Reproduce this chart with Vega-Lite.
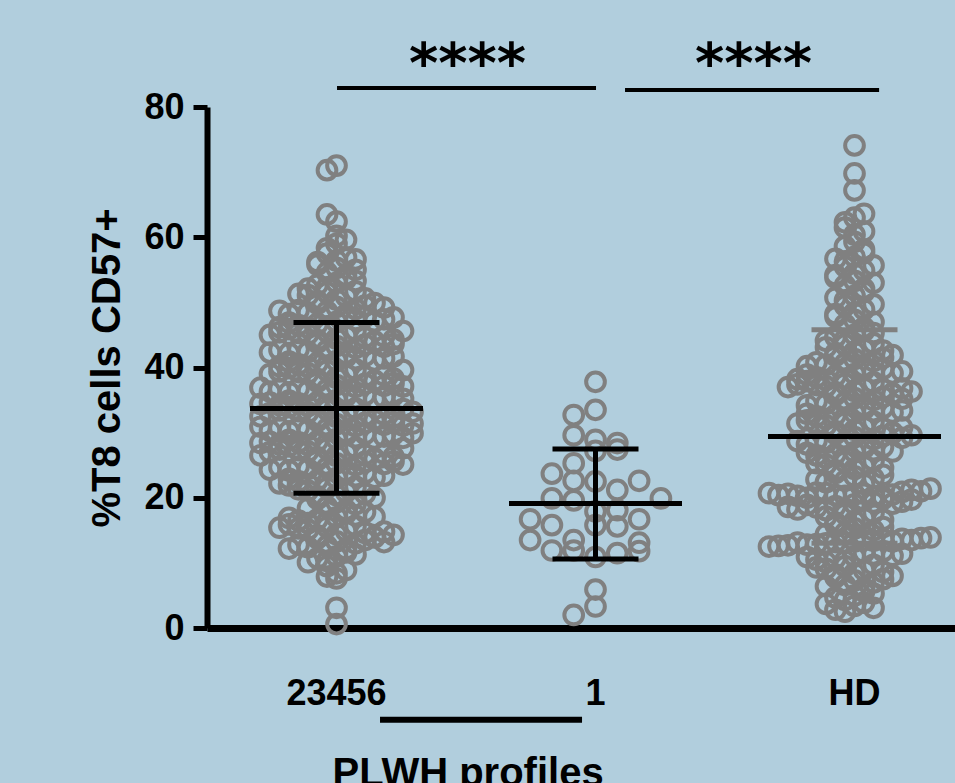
{
  "$schema": "https://vega.github.io/schema/vega-lite/v6.json",
  "width": 748,
  "height": 521,
  "autosize": {"type": "none"},
  "padding": {"left": 207, "top": 107, "right": 0, "bottom": 155},
  "background": "#b1cedd",
  "config": {"view": {"stroke": null}, "font": "Liberation Sans", "axis": {"grid": false}},
  "datasets": {
    "pts": [
      {"g":"23456","v":71.0},{"g":"23456","v":70.3},
      {"g":"23456","v":62.4},{"g":"23456","v":63.5},
      {"g":"23456","v":60.2},
      {"g":"23456","v":59.0},{"g":"23456","v":58.3},{"g":"23456","v":59.6},
      {"g":"23456","v":56.4},{"g":"23456","v":57.5},{"g":"23456","v":56.9},{"g":"23456","v":56.2},{"g":"23456","v":56.6},
      {"g":"23456","v":55.3},{"g":"23456","v":54.6},{"g":"23456","v":54.1},{"g":"23456","v":55.8},{"g":"23456","v":55.0},
      {"g":"23456","v":53.0},{"g":"23456","v":52.3},{"g":"23456","v":53.6},{"g":"23456","v":52.7},{"g":"23456","v":53.3},{"g":"23456","v":52.1},
      {"g":"23456","v":50.4},{"g":"23456","v":51.5},{"g":"23456","v":50.9},{"g":"23456","v":50.2},{"g":"23456","v":51.7},{"g":"23456","v":51.1},{"g":"23456","v":50.6},{"g":"23456","v":51.3},
      {"g":"23456","v":49.3},{"g":"23456","v":48.6},{"g":"23456","v":48.1},{"g":"23456","v":49.8},{"g":"23456","v":49.0},{"g":"23456","v":48.4},{"g":"23456","v":49.5},{"g":"23456","v":48.8},{"g":"23456","v":49.9},{"g":"23456","v":48.2},{"g":"23456","v":49.2},{"g":"23456","v":48.7},
      {"g":"23456","v":47.0},{"g":"23456","v":46.3},{"g":"23456","v":47.6},{"g":"23456","v":46.7},{"g":"23456","v":47.3},{"g":"23456","v":46.1},{"g":"23456","v":47.8},{"g":"23456","v":46.5},{"g":"23456","v":47.1},{"g":"23456","v":46.9},{"g":"23456","v":47.4},{"g":"23456","v":46.2},{"g":"23456","v":47.7},
      {"g":"23456","v":44.4},{"g":"23456","v":45.5},{"g":"23456","v":44.9},{"g":"23456","v":44.2},{"g":"23456","v":45.7},{"g":"23456","v":45.1},{"g":"23456","v":44.6},{"g":"23456","v":45.3},{"g":"23456","v":44.0},{"g":"23456","v":45.9},{"g":"23456","v":44.8},{"g":"23456","v":45.4},{"g":"23456","v":44.3},{"g":"23456","v":45.0},{"g":"23456","v":45.6},
      {"g":"23456","v":43.3},{"g":"23456","v":42.6},{"g":"23456","v":42.1},{"g":"23456","v":43.8},{"g":"23456","v":43.0},{"g":"23456","v":42.4},{"g":"23456","v":43.5},{"g":"23456","v":42.8},{"g":"23456","v":43.9},{"g":"23456","v":42.2},{"g":"23456","v":43.2},{"g":"23456","v":42.7},{"g":"23456","v":43.6},{"g":"23456","v":42.3},
      {"g":"23456","v":41.0},{"g":"23456","v":40.3},{"g":"23456","v":41.6},{"g":"23456","v":40.7},{"g":"23456","v":41.3},{"g":"23456","v":40.1},{"g":"23456","v":41.8},{"g":"23456","v":40.5},{"g":"23456","v":41.1},{"g":"23456","v":40.9},{"g":"23456","v":41.4},{"g":"23456","v":40.2},{"g":"23456","v":41.7},
      {"g":"23456","v":38.4},{"g":"23456","v":39.5},{"g":"23456","v":38.9},{"g":"23456","v":38.2},{"g":"23456","v":39.7},{"g":"23456","v":39.1},{"g":"23456","v":38.6},{"g":"23456","v":39.3},{"g":"23456","v":38.0},{"g":"23456","v":39.9},{"g":"23456","v":38.8},{"g":"23456","v":39.4},{"g":"23456","v":38.3},{"g":"23456","v":39.0},{"g":"23456","v":39.6},
      {"g":"23456","v":37.3},{"g":"23456","v":36.6},{"g":"23456","v":36.1},{"g":"23456","v":37.8},{"g":"23456","v":37.0},{"g":"23456","v":36.4},{"g":"23456","v":37.5},{"g":"23456","v":36.8},{"g":"23456","v":37.9},{"g":"23456","v":36.2},{"g":"23456","v":37.2},{"g":"23456","v":36.7},{"g":"23456","v":37.6},{"g":"23456","v":36.3},{"g":"23456","v":37.1},{"g":"23456","v":36.9},
      {"g":"23456","v":35.0},{"g":"23456","v":34.3},{"g":"23456","v":35.6},{"g":"23456","v":34.7},{"g":"23456","v":35.3},{"g":"23456","v":34.1},{"g":"23456","v":35.8},{"g":"23456","v":34.5},{"g":"23456","v":35.1},{"g":"23456","v":34.9},{"g":"23456","v":35.4},{"g":"23456","v":34.2},{"g":"23456","v":35.7},{"g":"23456","v":34.6},{"g":"23456","v":35.2},{"g":"23456","v":34.4},
      {"g":"23456","v":32.4},{"g":"23456","v":33.5},{"g":"23456","v":32.9},{"g":"23456","v":32.2},{"g":"23456","v":33.7},{"g":"23456","v":33.1},{"g":"23456","v":32.6},{"g":"23456","v":33.3},{"g":"23456","v":32.0},{"g":"23456","v":33.9},{"g":"23456","v":32.8},{"g":"23456","v":33.4},{"g":"23456","v":32.3},{"g":"23456","v":33.0},{"g":"23456","v":33.6},{"g":"23456","v":32.5},{"g":"23456","v":33.2},
      {"g":"23456","v":31.3},{"g":"23456","v":30.6},{"g":"23456","v":30.1},{"g":"23456","v":31.8},{"g":"23456","v":31.0},{"g":"23456","v":30.4},{"g":"23456","v":31.5},{"g":"23456","v":30.8},{"g":"23456","v":31.9},{"g":"23456","v":30.2},{"g":"23456","v":31.2},{"g":"23456","v":30.7},{"g":"23456","v":31.6},{"g":"23456","v":30.3},{"g":"23456","v":31.1},{"g":"23456","v":30.9},{"g":"23456","v":31.4},
      {"g":"23456","v":29.0},{"g":"23456","v":28.3},{"g":"23456","v":29.6},{"g":"23456","v":28.7},{"g":"23456","v":29.3},{"g":"23456","v":28.1},{"g":"23456","v":29.8},{"g":"23456","v":28.5},{"g":"23456","v":29.1},{"g":"23456","v":28.9},{"g":"23456","v":29.4},{"g":"23456","v":28.2},{"g":"23456","v":29.7},{"g":"23456","v":28.6},{"g":"23456","v":29.2},{"g":"23456","v":28.4},{"g":"23456","v":29.9},
      {"g":"23456","v":26.4},{"g":"23456","v":27.5},{"g":"23456","v":26.9},{"g":"23456","v":26.2},{"g":"23456","v":27.7},{"g":"23456","v":27.1},{"g":"23456","v":26.6},{"g":"23456","v":27.3},{"g":"23456","v":26.0},{"g":"23456","v":27.9},{"g":"23456","v":26.8},{"g":"23456","v":27.4},{"g":"23456","v":26.3},{"g":"23456","v":27.0},{"g":"23456","v":27.6},{"g":"23456","v":26.5},
      {"g":"23456","v":25.3},{"g":"23456","v":24.6},{"g":"23456","v":24.1},{"g":"23456","v":25.8},{"g":"23456","v":25.0},{"g":"23456","v":24.4},{"g":"23456","v":25.5},{"g":"23456","v":24.8},{"g":"23456","v":25.9},{"g":"23456","v":24.2},{"g":"23456","v":25.2},{"g":"23456","v":24.7},{"g":"23456","v":25.6},{"g":"23456","v":24.3},{"g":"23456","v":25.1},
      {"g":"23456","v":23.0},{"g":"23456","v":22.3},{"g":"23456","v":23.6},{"g":"23456","v":22.7},{"g":"23456","v":23.3},{"g":"23456","v":22.1},{"g":"23456","v":23.8},{"g":"23456","v":22.5},{"g":"23456","v":23.1},{"g":"23456","v":22.9},{"g":"23456","v":23.4},{"g":"23456","v":22.2},
      {"g":"23456","v":20.4},{"g":"23456","v":21.5},{"g":"23456","v":20.9},{"g":"23456","v":20.2},{"g":"23456","v":21.7},{"g":"23456","v":21.1},{"g":"23456","v":20.6},{"g":"23456","v":21.3},{"g":"23456","v":20.0},{"g":"23456","v":21.9},
      {"g":"23456","v":19.3},{"g":"23456","v":18.6},{"g":"23456","v":18.1},{"g":"23456","v":19.8},{"g":"23456","v":19.0},{"g":"23456","v":18.4},
      {"g":"23456","v":17.0},{"g":"23456","v":16.3},{"g":"23456","v":17.6},{"g":"23456","v":16.7},{"g":"23456","v":17.3},{"g":"23456","v":16.1},{"g":"23456","v":17.8},{"g":"23456","v":16.5},{"g":"23456","v":17.1},{"g":"23456","v":16.9},
      {"g":"23456","v":14.4},{"g":"23456","v":15.5},{"g":"23456","v":14.9},{"g":"23456","v":14.2},{"g":"23456","v":15.7},{"g":"23456","v":15.1},{"g":"23456","v":14.6},{"g":"23456","v":15.3},{"g":"23456","v":14.0},{"g":"23456","v":15.9},{"g":"23456","v":14.8},{"g":"23456","v":15.4},{"g":"23456","v":14.3},
      {"g":"23456","v":13.3},{"g":"23456","v":12.6},{"g":"23456","v":12.1},{"g":"23456","v":13.8},{"g":"23456","v":13.0},{"g":"23456","v":12.4},{"g":"23456","v":13.5},{"g":"23456","v":12.8},{"g":"23456","v":13.9},{"g":"23456","v":12.2},{"g":"23456","v":13.2},
      {"g":"23456","v":11.0},{"g":"23456","v":10.3},{"g":"23456","v":11.6},{"g":"23456","v":10.7},{"g":"23456","v":11.3},{"g":"23456","v":10.1},
      {"g":"23456","v":8.4},{"g":"23456","v":9.5},{"g":"23456","v":8.9},
      {"g":"23456","v":7.6},{"g":"23456","v":7.9},
      {"g":"23456","v":3.1},
      {"g":"23456","v":0.6},
      {"g":"1","v":37.8},{"g":"1","v":33.5},{"g":"1","v":32.7},
      {"g":"1","v":28.9},{"g":"1","v":29.6},{"g":"1","v":28.4},
      {"g":"1","v":27.2},{"g":"1","v":25.3},{"g":"1","v":27.4},
      {"g":"1","v":22.5},{"g":"1","v":22.6},{"g":"1","v":21.2},{"g":"1","v":23.7},{"g":"1","v":22.6},
      {"g":"1","v":17.9},{"g":"1","v":19.6},{"g":"1","v":18.1},{"g":"1","v":19.9},{"g":"1","v":16.7},{"g":"1","v":16.7},{"g":"1","v":19.9},
      {"g":"1","v":15.8},{"g":"1","v":13.5},{"g":"1","v":15.6},{"g":"1","v":15.8},{"g":"1","v":13.1},{"g":"1","v":13.5},
      {"g":"1","v":10.9},{"g":"1","v":11.9},{"g":"1","v":11.5},{"g":"1","v":11.9},{"g":"1","v":11.8},
      {"g":"1","v":5.9},{"g":"1","v":3.3},{"g":"1","v":2.0},
      {"g":"HD","v":74.1},{"g":"HD","v":69.8},{"g":"HD","v":67.2},
      {"g":"HD","v":63.0},{"g":"HD","v":62.3},{"g":"HD","v":63.6},
      {"g":"HD","v":60.4},{"g":"HD","v":61.5},{"g":"HD","v":60.9},
      {"g":"HD","v":59.3},{"g":"HD","v":58.6},{"g":"HD","v":58.1},
      {"g":"HD","v":57.0},{"g":"HD","v":56.3},{"g":"HD","v":57.6},{"g":"HD","v":56.7},
      {"g":"HD","v":54.4},{"g":"HD","v":55.5},{"g":"HD","v":54.9},{"g":"HD","v":54.2},{"g":"HD","v":55.7},
      {"g":"HD","v":53.3},{"g":"HD","v":52.6},{"g":"HD","v":52.1},{"g":"HD","v":53.8},{"g":"HD","v":53.0},
      {"g":"HD","v":51.0},{"g":"HD","v":50.3},{"g":"HD","v":51.6},{"g":"HD","v":50.7},
      {"g":"HD","v":48.4},{"g":"HD","v":49.5},{"g":"HD","v":48.9},{"g":"HD","v":48.2},{"g":"HD","v":49.7},
      {"g":"HD","v":47.3},{"g":"HD","v":46.6},{"g":"HD","v":46.1},{"g":"HD","v":47.8},{"g":"HD","v":47.0},
      {"g":"HD","v":45.0},{"g":"HD","v":44.3},{"g":"HD","v":45.6},{"g":"HD","v":44.7},{"g":"HD","v":45.3},{"g":"HD","v":44.1},
      {"g":"HD","v":42.4},{"g":"HD","v":43.5},{"g":"HD","v":42.9},{"g":"HD","v":42.2},{"g":"HD","v":43.7},{"g":"HD","v":43.1},{"g":"HD","v":42.6},
      {"g":"HD","v":41.3},{"g":"HD","v":40.6},{"g":"HD","v":40.1},{"g":"HD","v":41.8},{"g":"HD","v":41.0},{"g":"HD","v":40.4},{"g":"HD","v":41.5},{"g":"HD","v":40.8},{"g":"HD","v":41.9},{"g":"HD","v":40.2},
      {"g":"HD","v":39.0},{"g":"HD","v":38.3},{"g":"HD","v":39.6},{"g":"HD","v":38.7},{"g":"HD","v":39.3},{"g":"HD","v":38.1},{"g":"HD","v":39.8},{"g":"HD","v":38.5},{"g":"HD","v":39.1},{"g":"HD","v":38.9},{"g":"HD","v":39.4},{"g":"HD","v":38.2},
      {"g":"HD","v":36.4},{"g":"HD","v":37.5},{"g":"HD","v":36.9},{"g":"HD","v":36.2},{"g":"HD","v":37.7},{"g":"HD","v":37.1},{"g":"HD","v":36.6},{"g":"HD","v":37.3},{"g":"HD","v":36.0},{"g":"HD","v":37.9},{"g":"HD","v":36.8},{"g":"HD","v":37.4},{"g":"HD","v":36.3},{"g":"HD","v":37.0},
      {"g":"HD","v":35.3},{"g":"HD","v":34.6},{"g":"HD","v":34.1},{"g":"HD","v":35.8},{"g":"HD","v":35.0},{"g":"HD","v":34.4},{"g":"HD","v":35.5},{"g":"HD","v":34.8},{"g":"HD","v":35.9},{"g":"HD","v":34.2},{"g":"HD","v":35.2},
      {"g":"HD","v":33.0},{"g":"HD","v":32.3},{"g":"HD","v":33.6},{"g":"HD","v":32.7},{"g":"HD","v":33.3},{"g":"HD","v":32.1},{"g":"HD","v":33.8},{"g":"HD","v":32.5},{"g":"HD","v":33.1},{"g":"HD","v":32.9},{"g":"HD","v":33.4},
      {"g":"HD","v":30.4},{"g":"HD","v":31.5},{"g":"HD","v":30.9},{"g":"HD","v":30.2},{"g":"HD","v":31.7},{"g":"HD","v":31.1},{"g":"HD","v":30.6},{"g":"HD","v":31.3},{"g":"HD","v":30.0},{"g":"HD","v":31.9},{"g":"HD","v":30.8},{"g":"HD","v":31.4},
      {"g":"HD","v":29.3},{"g":"HD","v":28.6},{"g":"HD","v":28.1},{"g":"HD","v":29.8},{"g":"HD","v":29.0},{"g":"HD","v":28.4},{"g":"HD","v":29.5},{"g":"HD","v":28.8},{"g":"HD","v":29.9},{"g":"HD","v":28.2},{"g":"HD","v":29.2},{"g":"HD","v":28.7},{"g":"HD","v":29.6},
      {"g":"HD","v":27.0},{"g":"HD","v":26.3},{"g":"HD","v":27.6},{"g":"HD","v":26.7},{"g":"HD","v":27.3},{"g":"HD","v":26.1},{"g":"HD","v":27.8},{"g":"HD","v":26.5},{"g":"HD","v":27.1},{"g":"HD","v":26.9},
      {"g":"HD","v":24.4},{"g":"HD","v":25.5},{"g":"HD","v":24.9},{"g":"HD","v":24.2},{"g":"HD","v":25.7},{"g":"HD","v":25.1},{"g":"HD","v":24.6},{"g":"HD","v":25.3},
      {"g":"HD","v":23.3},{"g":"HD","v":22.6},{"g":"HD","v":22.1},{"g":"HD","v":23.8},{"g":"HD","v":23.0},{"g":"HD","v":22.4},{"g":"HD","v":23.5},{"g":"HD","v":22.8},
      {"g":"HD","v":20.5},{"g":"HD","v":20.3},{"g":"HD","v":20.6},{"g":"HD","v":20.4},{"g":"HD","v":20.2},{"g":"HD","v":20.7},{"g":"HD","v":20.1},{"g":"HD","v":20.8},{"g":"HD","v":20.5},{"g":"HD","v":20.0},{"g":"HD","v":20.9},{"g":"HD","v":20.3},{"g":"HD","v":21.2},{"g":"HD","v":20.6},{"g":"HD","v":21.0},{"g":"HD","v":20.4},{"g":"HD","v":21.4},{"g":"HD","v":20.7},
      {"g":"HD","v":19.0},{"g":"HD","v":18.3},{"g":"HD","v":19.6},{"g":"HD","v":18.7},{"g":"HD","v":19.3},{"g":"HD","v":18.1},{"g":"HD","v":19.8},{"g":"HD","v":18.5},{"g":"HD","v":19.1},{"g":"HD","v":18.9},{"g":"HD","v":19.4},{"g":"HD","v":18.2},{"g":"HD","v":19.7},{"g":"HD","v":18.6},
      {"g":"HD","v":16.4},{"g":"HD","v":17.5},{"g":"HD","v":16.9},{"g":"HD","v":16.2},{"g":"HD","v":17.7},{"g":"HD","v":17.1},{"g":"HD","v":16.6},
      {"g":"HD","v":15.3},{"g":"HD","v":14.6},{"g":"HD","v":14.1},{"g":"HD","v":15.8},{"g":"HD","v":15.0},{"g":"HD","v":14.4},{"g":"HD","v":15.5},
      {"g":"HD","v":13.3},{"g":"HD","v":13.1},{"g":"HD","v":13.5},{"g":"HD","v":13.2},{"g":"HD","v":13.4},{"g":"HD","v":13.0},{"g":"HD","v":13.6},{"g":"HD","v":12.9},{"g":"HD","v":13.3},{"g":"HD","v":12.8},{"g":"HD","v":13.7},{"g":"HD","v":13.1},{"g":"HD","v":13.5},{"g":"HD","v":12.7},{"g":"HD","v":13.8},{"g":"HD","v":12.6},{"g":"HD","v":13.9},{"g":"HD","v":12.5},
      {"g":"HD","v":11.0},{"g":"HD","v":10.3},{"g":"HD","v":11.6},{"g":"HD","v":10.7},{"g":"HD","v":11.3},{"g":"HD","v":10.1},{"g":"HD","v":11.8},{"g":"HD","v":10.5},{"g":"HD","v":11.1},{"g":"HD","v":10.9},{"g":"HD","v":11.4},
      {"g":"HD","v":8.4},{"g":"HD","v":9.5},{"g":"HD","v":8.9},{"g":"HD","v":8.2},{"g":"HD","v":9.7},{"g":"HD","v":9.1},{"g":"HD","v":8.6},{"g":"HD","v":9.3},{"g":"HD","v":8.0},
      {"g":"HD","v":7.3},{"g":"HD","v":6.6},{"g":"HD","v":6.1},{"g":"HD","v":7.8},{"g":"HD","v":7.0},{"g":"HD","v":6.4},{"g":"HD","v":7.5},
      {"g":"HD","v":5.0},{"g":"HD","v":4.3},{"g":"HD","v":5.6},{"g":"HD","v":4.7},{"g":"HD","v":5.3},
      {"g":"HD","v":3.4},{"g":"HD","v":2.5},{"g":"HD","v":3.9},{"g":"HD","v":2.8},{"g":"HD","v":3.1},{"g":"HD","v":3.7}
    ],
    "summary": [
      {"g":"23456","mean":33.7,"lo":20.7,"hi":46.9},
      {"g":"1","mean":19.1,"lo":10.6,"hi":27.5},
      {"g":"HD","mean":29.4,"lo":13.0,"hi":45.8}
    ],
    "sig": [
      {"x1":0.502,"x2":1.502,"y":82.9},
      {"x1":1.614,"x2":2.595,"y":82.6}
    ],
    "stars": [
      {"x":1.006,"y":83.8,"t":"****"},
      {"x":2.110,"y":83.8,"t":"****"}
    ],
    "base": [
      {"x1":0.668,"x2":1.448,"y":-14.1}
    ],
    "xtitle": [
      {"x":1.008,"y":-24.3,"t":"PLWH profiles"}
    ]
  },
  "layer": [
    {
      "data": {"name": "pts"},
      "transform": [
        {"filter": "datum.g !== '1'"},
        {"bin": {"step": 2, "extent": [0, 80]}, "field": "v", "as": "vb"},
        {"window": [{"op": "row_number", "as": "slot"}], "groupby": ["g", "vb"]}
      ],
      "mark": {"type": "point", "shape": "circle", "filled": false, "color": "#808080", "strokeWidth": 4, "size": 350, "opacity": 1},
      "encoding": {
        "x": {
          "field": "g", "type": "nominal",
          "scale": {"domain": ["23456", "1", "HD"], "range": [0, 777], "paddingInner": 0, "paddingOuter": 0},
          "axis": {"title": null, "domainColor": "black", "domainWidth": 7, "ticks": false, "tickSize": 0, "labelFontSize": 36, "labelFontWeight": "bold", "labelColor": "black", "labelPadding": 48, "labelAngle": 0}
        },
        "xOffset": {
          "field": "slot", "type": "ordinal",
          "scale": {"type": "point", "domain": [20, 18, 16, 14, 12, 10, 8, 6, 4, 2, 1, 3, 5, 7, 9, 11, 13, 15, 17, 19], "range": [34.5, 215], "padding": 0}
        },
        "y": {
          "field": "v", "type": "quantitative",
          "scale": {"domain": [0, 80], "nice": false},
          "axis": {"title": "%T8 cells CD57+", "orient": "left", "values": [0, 20, 40, 60, 80], "domainColor": "black", "domainWidth": 6, "tickColor": "black", "tickWidth": 5, "tickSize": 14, "labelFontSize": 36, "labelFontWeight": "bold", "labelColor": "black", "labelPadding": 9, "titleFontSize": 40, "titleFontWeight": "bold", "titleColor": "black", "titlePadding": 16}
        }
      }
    },
    {
      "data": {"name": "pts"},
      "transform": [
        {"filter": "datum.g === '1'"},
        {"bin": {"step": 4, "extent": [0, 80]}, "field": "v", "as": "vb"},
        {"window": [{"op": "row_number", "as": "slot"}], "groupby": ["vb"]}
      ],
      "mark": {"type": "point", "shape": "circle", "filled": false, "color": "#808080", "strokeWidth": 4, "size": 350, "opacity": 1},
      "encoding": {
        "x": {"field": "g", "type": "nominal", "scale": {"domain": ["23456", "1", "HD"], "range": [0, 777], "paddingInner": 0, "paddingOuter": 0}, "axis": null},
        "xOffset": {"field": "slot", "type": "ordinal", "scale": {"type": "point", "domain": [8, 6, 4, 2, 1, 3, 5, 7, 9], "range": [42.3, 216.7], "padding": 0}},
        "y": {"field": "v", "type": "quantitative"}
      }
    },
    {
      "data": {"name": "summary"},
      "mark": {"type": "rule", "strokeWidth": 5},
      "encoding": {
        "x": {"field": "g", "type": "nominal", "bandPosition": 0.5, "scale": {"domain": ["23456", "1", "HD"], "range": [0, 777], "paddingInner": 0, "paddingOuter": 0}, "axis": null},
        "y": {"field": "lo", "type": "quantitative"},
        "y2": {"field": "hi"},
        "color": {"condition": {"test": "datum.g === 'HD'", "value": "#808080"}, "value": "black"}
      }
    },
    {
      "data": {"name": "summary"},
      "mark": {"type": "tick", "orient": "horizontal", "size": 86, "thickness": 5, "opacity": 1},
      "encoding": {
        "x": {"field": "g", "type": "nominal", "scale": {"domain": ["23456", "1", "HD"], "range": [0, 777], "paddingInner": 0, "paddingOuter": 0}, "axis": null},
        "y": {"field": "lo", "type": "quantitative"},
        "color": {"condition": {"test": "datum.g === 'HD'", "value": "#808080"}, "value": "black"}
      }
    },
    {
      "data": {"name": "summary"},
      "mark": {"type": "tick", "orient": "horizontal", "size": 86, "thickness": 5, "opacity": 1},
      "encoding": {
        "x": {"field": "g", "type": "nominal", "scale": {"domain": ["23456", "1", "HD"], "range": [0, 777], "paddingInner": 0, "paddingOuter": 0}, "axis": null},
        "y": {"field": "hi", "type": "quantitative"},
        "color": {"condition": {"test": "datum.g === 'HD'", "value": "#808080"}, "value": "black"}
      }
    },
    {
      "data": {"name": "summary"},
      "mark": {"type": "tick", "orient": "horizontal", "size": 173, "thickness": 5, "color": "black", "opacity": 1},
      "encoding": {
        "x": {"field": "g", "type": "nominal", "scale": {"domain": ["23456", "1", "HD"], "range": [0, 777], "paddingInner": 0, "paddingOuter": 0}, "axis": null},
        "y": {"field": "mean", "type": "quantitative"}
      }
    },
    {
      "data": {"name": "sig"},
      "mark": {"type": "rule", "strokeWidth": 4, "color": "black"},
      "encoding": {
        "x": {"field": "x1", "type": "quantitative", "scale": {"domain": [0, 3], "range": [0, 777], "nice": false, "zero": false}, "axis": null},
        "x2": {"field": "x2"},
        "y": {"field": "y", "type": "quantitative"}
      }
    },
    {
      "data": {"name": "base"},
      "mark": {"type": "rule", "strokeWidth": 6, "color": "black"},
      "encoding": {
        "x": {"field": "x1", "type": "quantitative", "scale": {"domain": [0, 3], "range": [0, 777], "nice": false, "zero": false}, "axis": null},
        "x2": {"field": "x2"},
        "y": {"field": "y", "type": "quantitative"}
      }
    },
    {
      "data": {"name": "stars"},
      "mark": {"type": "text", "font": "DejaVu Sans", "fontSize": 56, "fontWeight": "bold", "baseline": "alphabetic", "align": "center", "color": "black"},
      "encoding": {
        "x": {"field": "x", "type": "quantitative", "scale": {"domain": [0, 3], "range": [0, 777], "nice": false, "zero": false}, "axis": null},
        "y": {"field": "y", "type": "quantitative"},
        "text": {"field": "t"}
      }
    },
    {
      "data": {"name": "xtitle"},
      "mark": {"type": "text", "font": "Liberation Sans", "fontSize": 40, "fontWeight": "bold", "baseline": "alphabetic", "align": "center", "color": "black"},
      "encoding": {
        "x": {"field": "x", "type": "quantitative", "scale": {"domain": [0, 3], "range": [0, 777], "nice": false, "zero": false}, "axis": null},
        "y": {"field": "y", "type": "quantitative"},
        "text": {"field": "t"}
      }
    }
  ],
  "resolve": {"scale": {"x": "independent", "xOffset": "independent"}}
}
